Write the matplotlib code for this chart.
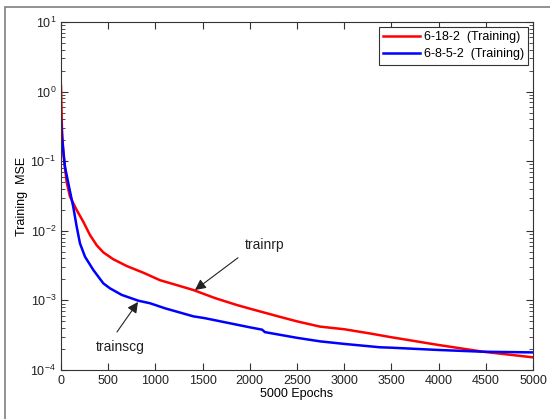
import matplotlib as mpl
mpl.use('Agg')
import matplotlib.pyplot as plt
from matplotlib.patches import Rectangle
import numpy as np

plt.rcParams['font.family'] = ['Liberation Sans', 'DejaVu Sans']
plt.rcParams['mathtext.fontset'] = 'custom'
plt.rcParams['mathtext.rm'] = 'Liberation Sans'
plt.rcParams['mathtext.it'] = 'Liberation Sans'
plt.rcParams['axes.unicode_minus'] = False
plt.rcParams['font.size'] = 9

# 6-18-2 (trainrp)
red_epochs = [0, 10, 25, 60, 95, 166, 236, 307, 378, 448, 554, 696, 872, 1049,
              1200, 1402, 1631, 1861, 2002, 2320, 2500, 2744, 3001, 3273, 3503,
              3997, 4473, 5000]
red_mse = [1.2, 0.3, 0.13, 0.05, 0.031, 0.0199, 0.0135, 0.0087, 0.0062, 0.0049,
           0.0039, 0.00312, 0.0025, 0.00195, 0.0017, 0.00141, 0.00108, 0.00086,
           0.00076, 0.00058, 0.00050, 0.00042, 0.000385, 0.000335, 0.000295,
           0.000229, 0.000183, 0.000152]

# 6-8-5-2 (trainscg)
blue_epochs = [0, 10, 42, 95, 130, 166, 201, 254, 342, 448, 519, 643, 819, 943,
               1102, 1402, 1525, 2002, 2130, 2160, 2500, 2744, 3001, 3379, 3503,
               3997, 4473, 5000]
blue_mse = [0.4, 0.22, 0.083, 0.037, 0.022, 0.0115, 0.0066, 0.00425, 0.00274,
            0.00176, 0.00149, 0.0012, 0.00099, 0.00091, 0.00077, 0.00059,
            0.000555, 0.00041, 0.00038, 0.00035, 0.00029, 0.000258, 0.000237,
            0.000212, 0.000209, 0.000194, 0.000183, 0.000179]

labels = ['6-18-2  (Training)', '6-8-5-2  (Training)']

fig = plt.figure(figsize=(5.5, 4.19), dpi=100)
# grey outer frame
fig.patches.append(Rectangle((5/550, -0.05), 1.0, 1 - 7/419 + 0.05,
                             transform=fig.transFigure, fill=False,
                             edgecolor='#7f7f7f', linewidth=1.2))

ax = fig.add_axes([61/550, 1 - 370/419, 472/550, 348/419])
ax.semilogy(red_epochs, red_mse, color='#ff0000', lw=1.8, label=labels[0])
ax.semilogy(blue_epochs, blue_mse, color='#0000ff', lw=1.8, label=labels[1])

ax.set_xlim(0, 5000)
ax.set_ylim(1e-4, 1e1)
ax.set_xticks(np.arange(0, 5001, 500))
ax.tick_params(which='both', direction='in', top=True, right=True,
               colors='#333333', labelcolor='#222222')
ax.tick_params(which='major', length=5)
ax.tick_params(which='minor', length=3)
for s in ax.spines.values():
    s.set_color('#333333')

ax.set_xlabel('5000 Epochs', labelpad=1)
ax.set_ylabel('Training  MSE', labelpad=2)

arrow = dict(arrowstyle='-|>', color='#222222', lw=0.8,
             mutation_scale=16, shrinkA=0, shrinkB=0)
ax.annotate('', xy=(1419, 0.00141), xytext=(1875, 0.0041), arrowprops=arrow)
ax.text(2161, 0.00625, 'trainrp', fontsize=10, color='#222222',
        ha='center', va='center')
ax.annotate('', xy=(816, 0.00095), xytext=(593, 0.000352), arrowprops=arrow)
ax.text(625, 0.000214, 'trainscg', fontsize=10, color='#222222',
        ha='center', va='center')

leg = ax.legend(loc='upper right', fancybox=False, framealpha=1,
                edgecolor='#333333', fontsize=9, handlelength=3,
                borderaxespad=0.4, handletextpad=0.25, labelspacing=0.4,
                borderpad=0.35)
leg.get_frame().set_linewidth(0.8)

fig.savefig('out.png', dpi=100)
